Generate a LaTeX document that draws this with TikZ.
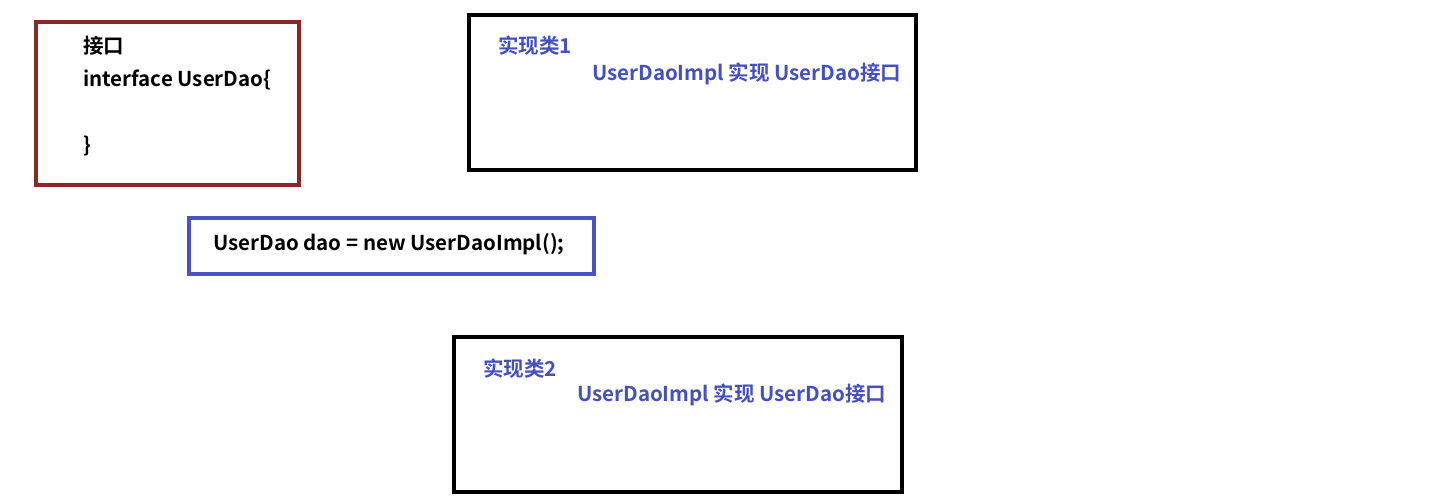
\documentclass[tikz,border=0pt]{standalone}
\usepackage{fontspec}
\setmainfont{Noto Sans CJK SC}[BoldFont={* Bold}]
\definecolor{boxred}{HTML}{8A2828}
\definecolor{boxblue}{HTML}{4A52C4}
\definecolor{txtblue}{HTML}{4450C0}
\begin{document}
\begin{tikzpicture}[x=1pt,y=-1pt,
  frame/.style={draw, line width=3.2pt},
  lbl/.style={anchor=west, inner sep=0pt, font=\fontsize{20.5}{22}\selectfont\bfseries},
  bl/.style={lbl, text=txtblue}]
\useasboundingbox[fill=white] (0,0) rectangle (1451,501);
% interface box
\draw[frame, boxred] (36,22) rectangle (299,185);
\node[lbl] (t1) at (83,46) {接口};
\node[lbl] (t2) at (83,80) {interface UserDao\{};
\node[lbl] (t3) at (83,146) {\}};
% impl 1
\draw[frame, black] (469,15) rectangle (916,170);
\node[bl] (i1) at (498,46) {实现类1};
\node[bl] (i1b) at (592,74) {UserDaoImpl 实现 UserDao接口};
% statement
\draw[frame, boxblue] (189,218) rectangle (594,274);
\node[lbl] (s) at (213,244) {UserDao dao = new UserDaoImpl();};
% impl 2
\draw[frame, black] (454,337) rectangle (902,492);
\node[bl] (i2) at (483,369) {实现类2};
\node[bl] (i2b) at (577,395) {UserDaoImpl 实现 UserDao接口};
\end{tikzpicture}
\end{document}
